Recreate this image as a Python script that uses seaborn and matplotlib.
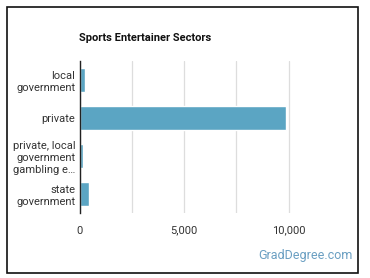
import matplotlib
matplotlib.use("Agg")
import matplotlib.pyplot as plt
import seaborn as sns
import pandas as pd
from matplotlib.ticker import FixedLocator, FuncFormatter
from matplotlib.patches import Rectangle

categories = ["local\ngovernment", "private", "private, local\ngovernment\ngambling e\u2026", "state\ngovernment"]
values = [280, 9870, 150, 470]
tick_values = [0, 5000, 10000]
title = "Sports Entertainer Sectors"
watermark = "GradDegree.com"

sns.set_theme(style="white")
plt.rcParams['font.family'] = ['Roboto', 'DejaVu Sans']

df = pd.DataFrame({"sector": categories, "count": values})

fig = plt.figure(figsize=(3.70, 2.78), dpi=100)
ax = fig.add_axes([79.5/370, 1 - 213/278, (341 - 79.5)/370, (213 - 61)/278])

sns.barplot(data=df, y="sector", x="count", color="#5ba5c3", width=0.65, ax=ax,
            saturation=1, orient="h")

ax.set_xlim(0, 12500)
ax.xaxis.set_major_locator(FixedLocator(tick_values))
ax.xaxis.set_minor_locator(FixedLocator([2500, 7500]))
ax.xaxis.set_major_formatter(FuncFormatter(lambda v, p: f"{int(v):,}"))
ax.grid(axis="x", which="both", color="#dddddd", linewidth=0.9)
ax.set_axisbelow(True)
for s in ["top", "right", "bottom"]:
    ax.spines[s].set_visible(False)
ax.spines["left"].set_color("#222222")
ax.spines["left"].set_linewidth(1.0)
ax.set_xlabel("")
ax.set_ylabel("")
ax.tick_params(axis="both", which="both", length=0, labelsize=8, labelcolor="#333333")
ax.tick_params(axis="x", pad=9)
ax.tick_params(axis="y", pad=3)
for lab in ax.get_yticklabels():
    lab.set_linespacing(1.25)
    lab.set_horizontalalignment("right")

fig.text(79/370, 1 - 38/278, title, fontsize=8, fontweight="bold", color="#111111",
         va="center", ha="left")
fig.text(353/370, 1 - 256/278, watermark, fontsize=9, color="#6a9fc2",
         va="center", ha="right")

fig.patches.append(Rectangle((7/370, 1 - 273/278), (358 - 7)/370, (273 - 7)/278,
                             transform=fig.transFigure, fill=False,
                             edgecolor="#111111", linewidth=1.2))

fig.savefig("out.png", dpi=100)
